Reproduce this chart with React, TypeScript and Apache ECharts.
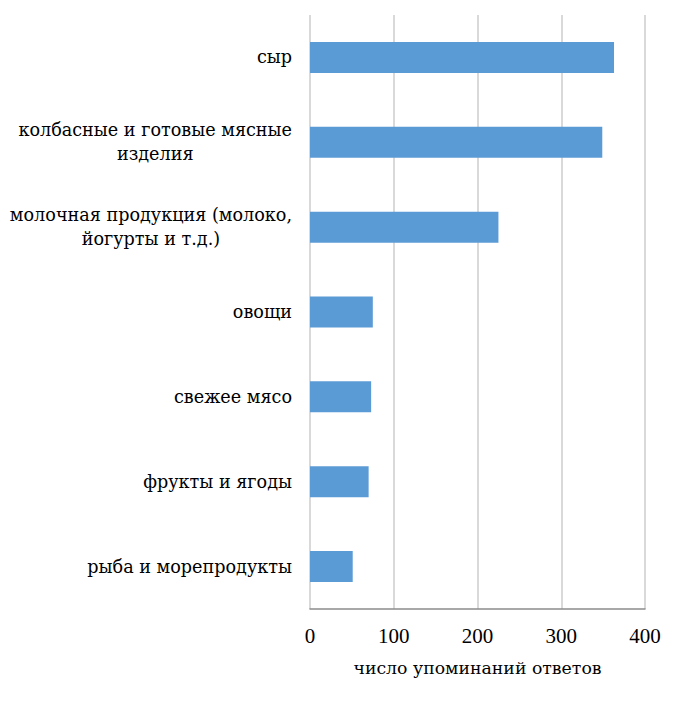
import React, { useEffect, useRef } from "react";
import * as echarts from "echarts";

const categories = [
  "сыр",
  "колбасные и готовые мясные\nизделия",
  "молочная продукция (молоко,\nйогурты и т.д.)",
  "овощи",
  "свежее мясо",
  "фрукты и ягоды",
  "рыба и морепродукты",
];
const values = [363, 349, 225, 75, 73, 70, 51];
const xTicks = [0, 100, 200, 300, 400];
const axisName = "число упоминаний ответов";

const NUM_FONT = "Liberation Serif, Times New Roman, serif";
const CYR_FONT = "DejaVu Serif, serif";

export default function App() {
  const ref = useRef<HTMLDivElement>(null);
  useEffect(() => {
    if (!ref.current) return;
    const chart = echarts.init(ref.current, undefined, { renderer: "svg" });
    chart.setOption({
      animation: false,
      backgroundColor: "#ffffff",
      textStyle: { fontFamily: CYR_FONT },
      grid: { left: 310, right: 37, top: 15, bottom: 98, containLabel: false },
      xAxis: {
        type: "value",
        min: xTicks[0],
        max: xTicks[xTicks.length - 1],
        interval: 100,
        name: axisName,
        nameLocation: "middle",
        nameGap: 50,
        nameTextStyle: { fontFamily: CYR_FONT, fontSize: 17.3, color: "#000" },
        axisLine: { show: true, lineStyle: { color: "#8c8c8c", width: 1.5 } },
        axisTick: { show: false },
        axisLabel: { fontFamily: NUM_FONT, fontSize: 21, color: "#000", margin: 16 },
        splitLine: { show: true, lineStyle: { color: "#d9d9d9", width: 2 } },
      },
      yAxis: {
        type: "category",
        inverse: true,
        data: categories,
        axisLine: { show: false },
        axisTick: { show: false },
        axisLabel: {
          margin: 18,
          fontFamily: CYR_FONT,
          fontSize: 17.6,
          color: "#000",
          formatter: (v: string) =>
            v
              .split("\n")
              .map((l) => `{c|${l}}`)
              .join("\n"),
          rich: {
            c: {
              align: "center",
              fontFamily: CYR_FONT,
              fontSize: 17.6,
              lineHeight: 24,
              color: "#000",
            },
          },
        },
      },
      series: [
        {
          type: "bar",
          data: values,
          barWidth: 31,
          itemStyle: { color: "#5b9bd5" },
        },
      ],
    });
    return () => chart.dispose();
  }, []);
  return (
    <div
      ref={ref}
      style={{ position: "fixed", left: 0, top: 0, width: 682, height: 707 }}
    />
  );
}
